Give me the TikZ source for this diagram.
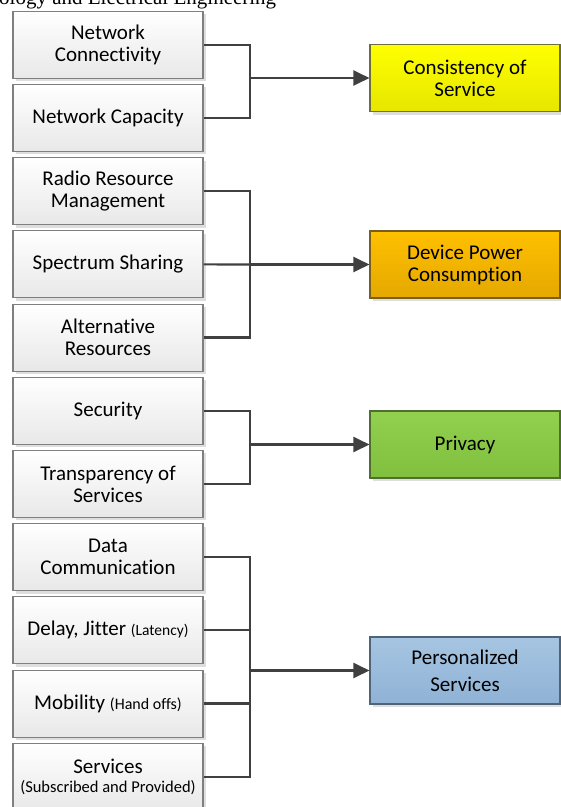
\documentclass[tikz,border=0pt]{standalone}
\usepackage{fontspec}
\setmainfont[Ligatures={NoCommon,NoRare,NoDiscretionary}]{Carlito}
\newfontfamily\hdrfont{Liberation Serif}
\usetikzlibrary{arrows.meta,shadows}
\definecolor{linec}{HTML}{404040}
\definecolor{bordc}{HTML}{7F7F7F}
\definecolor{ybord}{RGB}{110,110,60}
\definecolor{ytop}{RGB}{255,255,0}
\definecolor{ybot}{RGB}{230,230,0}
\definecolor{obord}{RGB}{120,95,30}
\definecolor{otop}{RGB}{255,192,0}
\definecolor{obot}{RGB}{228,168,0}
\definecolor{gbord}{RGB}{80,110,50}
\definecolor{gtop}{RGB}{146,208,80}
\definecolor{gbot}{RGB}{128,192,62}
\definecolor{bbord}{RGB}{80,100,120}
\definecolor{btop}{RGB}{166,197,226}
\definecolor{bbot}{RGB}{143,178,213}
\begin{document}
\begin{tikzpicture}[x=1pt,y=-1pt,
  mainfont/.style={font=\fontsize{21}{22}\selectfont},
  leftbox/.style={draw=bordc, line width=1.1pt, top color=white, bottom color=black!9,
     minimum width=190pt, minimum height=67pt, align=center, inner sep=2pt, mainfont,
     drop shadow={shadow xshift=3pt, shadow yshift=-3pt, fill=black!13, opacity=1}},
  tgtbox/.style={draw=#1, line width=1.1pt,
     minimum width=190pt, minimum height=67pt, align=center, inner sep=2pt, mainfont,
     drop shadow={shadow xshift=3pt, shadow yshift=-3pt, fill=black!13, opacity=1}},
  conn/.style={draw=linec, line width=2.2pt},
  arr/.style={conn, -{Triangle[length=16pt,width=15pt]}}]
\useasboundingbox (0,0) rectangle (561,807);

\node[anchor=base west, font=\hdrfont\fontsize{21}{24}\selectfont, inner sep=0pt] (hdr) at (-1,4) {ology and Electrical Engineering};

\node[leftbox] (b1) at (108,44.75) {Network\\Connectivity};
\node[leftbox] (b2) at (108,117.95) {Network Capacity};
\node[leftbox] (b3) at (108,191.15) {Radio Resource\\Management};
\node[leftbox] (b4) at (108,264.35) {Spectrum Sharing};
\node[leftbox] (b5) at (108,337.55) {Alternative\\Resources};
\node[leftbox] (b6) at (108,410.75) {Security};
\node[leftbox] (b7) at (108,483.95) {Transparency of\\Services};
\node[leftbox] (b8) at (108,557.15) {Data\\Communication};
\node[leftbox] (b9) at (108,630.35) {Delay, Jitter {\fontsize{15.5}{18}\selectfont(Latency)}};
\node[leftbox] (b10) at (108,703.55) {Mobility {\fontsize{16}{18}\selectfont(Hand offs)}};
\node[leftbox] (b11) at (108,776.75) {Services\\[-3pt]{\fontsize{16.5}{18}\selectfont(Subscribed and Provided)}};

\node[tgtbox=ybord, top color=ytop, bottom color=ybot] (t1) at (465,78) {Consistency of\\Service};
\node[tgtbox=obord, top color=otop, bottom color=obot] (t2) at (465,264.5) {Device Power\\Consumption};
\node[tgtbox=gbord, top color=gtop, bottom color=gbot] (t3) at (465,444.5) {Privacy};
\node[tgtbox=bbord, top color=btop, bottom color=bbot] (t4) at (465,670.5) {Personalized\\[5pt]Services};

\coordinate (j1) at (250,78);
\coordinate (j2) at (250,264.5);
\coordinate (j3) at (250,444.5);
\coordinate (j4) at (250,670.5);

\draw[conn] (b1.east) -| (j1);
\draw[conn] (b2.east) -| (j1);
\draw[arr] (j1) -- (t1.west);

\draw[conn] (b3.east) -| (j2);
\draw[conn] (b5.east) -| (j2);
\draw[conn] (b4.east) -- (j2);
\draw[arr] (j2) -- (t2.west);

\draw[conn] (b6.east) -| (j3);
\draw[conn] (b7.east) -| (j3);
\draw[arr] (j3) -- (t3.west);

\draw[conn] (b8.east) -| (j4);
\draw[conn] (b11.east) -| (j4);
\draw[conn] (b9.east) -- (b9.east -| j4);
\draw[conn] (b10.east) -- (b10.east -| j4);
\draw[arr] (j4) -- (t4.west);
\end{tikzpicture}
\end{document}
